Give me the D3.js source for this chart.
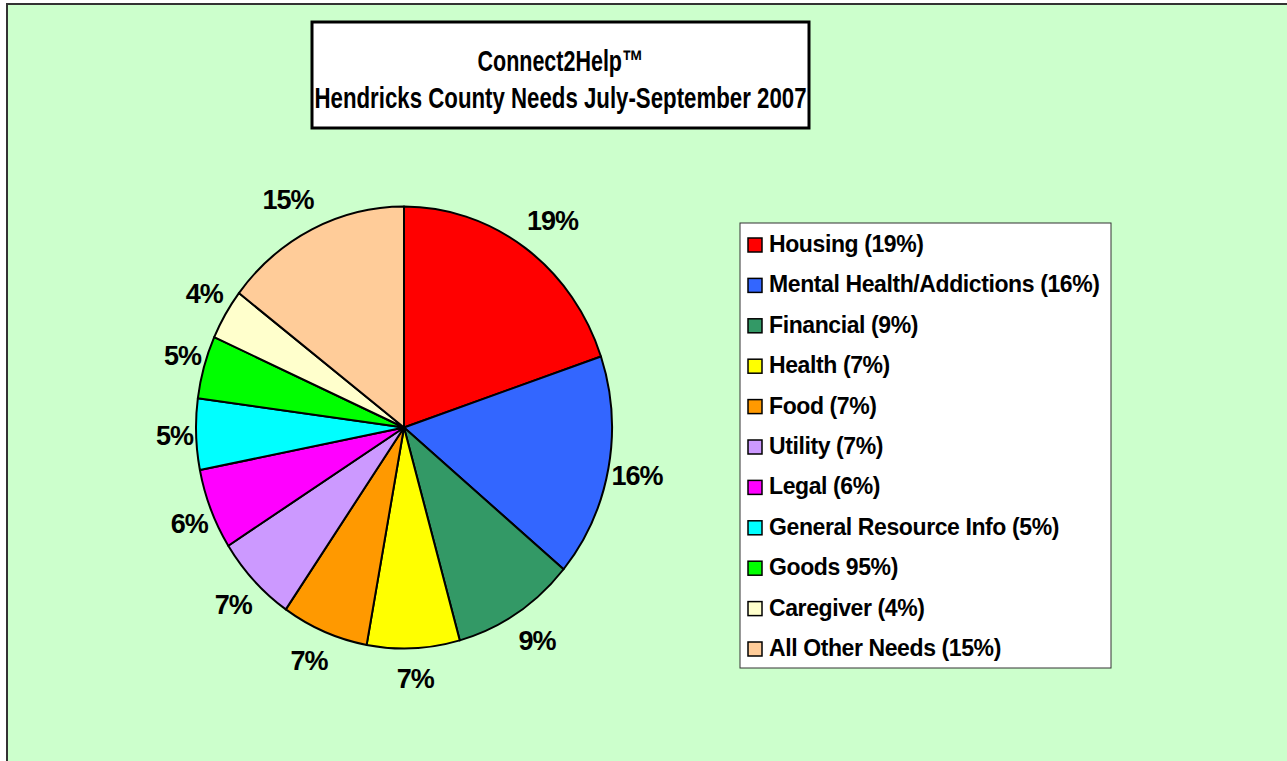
<!DOCTYPE html>
<html>
<head>
<meta charset="utf-8">
<script src="https://cdn.jsdelivr.net/npm/d3@7"></script>
<style>
  body { margin: 0; background: #fff; }
  svg { display: block; }
  text { font-family: "Liberation Sans", Arial, sans-serif; font-weight: bold; fill: #000; }
</style>
</head>
<body>
<svg id="chart" width="1287" height="761"></svg>
<script>
// Chart data
const categories = ["Housing", "Mental Health/Addictions", "Financial", "Health", "Food", "Utility",
  "Legal", "General Resource Info", "Goods", "Caregiver", "All Other Needs"];
const shares = [19.8, 16.3, 9.6, 7.2, 6.75, 6.4, 5.9, 5.2, 4.6, 3.7, 14.6];
const sliceLabels = ["19%", "16%", "9%", "7%", "7%", "7%", "6%", "5%", "5%", "4%", "15%"];
const legendLabels = ["Housing (19%)", "Mental Health/Addictions (16%)", "Financial (9%)", "Health (7%)",
  "Food (7%)", "Utility (7%)", "Legal (6%)", "General Resource Info (5%)", "Goods 95%)",
  "Caregiver (4%)", "All Other Needs (15%)"];
const colors = ["#FF0000", "#3366FF", "#339966", "#FFFF00", "#FF9900", "#CC99FF",
  "#FF00FF", "#00FFFF", "#00FF00", "#FFFFCC", "#FFCC99"];
const titleLines = ["Connect2Help\u2122", "Hendricks County Needs July-September 2007"];

const svg = d3.select("#chart");

// chart area background
svg.append("rect")
  .attr("x", 7).attr("y", 4)
  .attr("width", 1300).attr("height", 800)
  .attr("fill", "#CCFFCC")
  .attr("stroke", "#333").attr("stroke-width", 2);

// title box
const title = svg.append("g");
title.append("rect")
  .attr("x", 312).attr("y", 22)
  .attr("width", 497).attr("height", 106)
  .attr("fill", "#fff")
  .attr("stroke", "#000").attr("stroke-width", 3);

title.selectAll("text")
  .data(titleLines)
  .enter()
  .append("text")
  .attr("x", 560.5)
  .attr("y", (d, i) => i === 0 ? 71 : 108)
  .attr("text-anchor", "middle")
  .attr("font-size", 30)
  .attr("textLength", (d, i) => i === 0 ? 166 : 492)
  .attr("lengthAdjust", "spacingAndGlyphs")
  .text(d => d);

// pie (slightly squashed horizontally, like the original)
const cx = 404, cy = 427.5, rx = 208, ry = 221;

const pie = d3.pie().sort(null).value(d => d);
const arcs = pie(shares);
const arc = d3.arc().innerRadius(0).outerRadius(ry);

const pieG = svg.append("g")
  .attr("transform", `translate(${cx},${cy}) scale(${rx / ry},1)`);

pieG.selectAll("path")
  .data(arcs)
  .enter()
  .append("path")
  .attr("d", arc)
  .attr("fill", (d, i) => colors[i])
  .attr("stroke", "#000")
  .attr("stroke-width", 2)
  .attr("stroke-linejoin", "round")
  .attr("vector-effect", "non-scaling-stroke");

// percentage labels outside the slices: the label box corner nearest
// the pie sits just outside the rim, like Excel places them
const clamp = v => Math.max(-1, Math.min(1, v));
svg.selectAll(".slice-label")
  .data(arcs)
  .enter()
  .append("text")
  .attr("class", "slice-label")
  .attr("text-anchor", "middle")
  .attr("dominant-baseline", "central")
  .attr("font-size", 27)
  .attr("letter-spacing", -1)
  .text((d, i) => sliceLabels[i])
  .each(function (d) {
    const mid = (d.startAngle + d.endAngle) / 2;
    const s = Math.sin(mid), c = Math.cos(mid);
    const hw = this.getComputedTextLength() / 2, hh = 10;
    const x = cx + s * rx * 1.015 + hw * clamp(s * 2);
    const y = cy - c * ry * 1.095 - hh * clamp(c * 2);
    d3.select(this).attr("x", x).attr("y", y);
  });

// legend
const legend = svg.append("g");
legend.append("rect")
  .attr("x", 740).attr("y", 223)
  .attr("width", 371).attr("height", 445)
  .attr("fill", "#fff")
  .attr("stroke", "#333").attr("stroke-width", 1);

const rowY = d3.scalePoint()
  .domain(categories)
  .range([244, 648]);

const rows = legend.selectAll(".legend-row")
  .data(categories)
  .enter()
  .append("g")
  .attr("class", "legend-row")
  .attr("transform", d => `translate(0,${rowY(d)})`);

rows.append("rect")
  .attr("x", 748).attr("y", -6)
  .attr("width", 14).attr("height", 14)
  .attr("fill", (d, i) => colors[i])
  .attr("stroke", "#000").attr("stroke-width", 1.5);

rows.append("text")
  .attr("x", 769).attr("y", 8)
  .attr("font-size", 23)
  .attr("letter-spacing", -0.4)
  .text((d, i) => legendLabels[i]);
</script>
</body>
</html>
